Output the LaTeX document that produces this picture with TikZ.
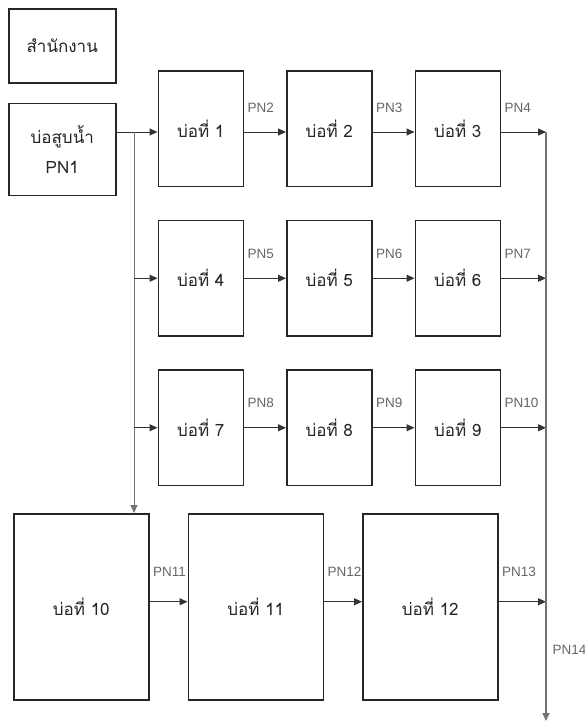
\documentclass[tikz,border=0pt]{standalone}
\usepackage{fontspec}
\setmainfont{Liberation Sans}
\newfontfamily\thaifont[Script=Thai]{Loma}
\usetikzlibrary{arrows.meta,positioning}

\begin{document}
\begin{tikzpicture}[
  x=1pt, y=1pt,
  box/.style={draw=black!85, line width=1.5pt, fill=white, inner sep=0pt, align=center, text=black!85, font=\thaifont\fontsize{17}{19}\selectfont},
  pond/.style={box, minimum width=85pt, minimum height=115.5pt},
  bigpond/.style={box, minimum width=135pt, minimum height=186pt},
  arrow/.style={-{Triangle[length=8pt, width=7pt]}, line width=1pt, draw=black!80},
  feed/.style={arrow, draw=black!55},
  pnlabel/.style={pos=0, anchor=base west, xshift=3pt, yshift=20pt, inner sep=0pt, text=black!60, font=\fontsize{13.5}{15}\selectfont}
]
\useasboundingbox (0,0) rectangle (585,-724);

\node[box, anchor=north west, minimum width=107pt, minimum height=74pt] (office) at (8,-8) {สำนักงาน};
\node[box, below=19pt of office, minimum width=107pt, minimum height=92pt, font=\thaifont\fontsize{17}{30}\selectfont] (pump) {บ่อสูบน้ำ\\PN1};

% แถวที่ 1-3
\node[pond, right=41pt of pump, yshift=20.5pt] (p1) {บ่อที่ 1};
\node[pond, right=42pt of p1] (p2) {บ่อที่ 2};
\node[pond, right=42pt of p2] (p3) {บ่อที่ 3};

\node[pond, below=32.5pt of p1] (p4) {บ่อที่ 4};
\node[pond, right=42pt of p4] (p5) {บ่อที่ 5};
\node[pond, right=42pt of p5] (p6) {บ่อที่ 6};

\node[pond, below=32.5pt of p4] (p7) {บ่อที่ 7};
\node[pond, right=42pt of p7] (p8) {บ่อที่ 8};
\node[pond, right=42pt of p8] (p9) {บ่อที่ 9};

% แถวล่าง
\node[bigpond, anchor=north west] (p10) at (13,-513) {บ่อที่ 10};
\node[bigpond, right=38pt of p10] (p11) {บ่อที่ 11};
\node[bigpond, right=38pt of p11] (p12) {บ่อที่ 12};

\coordinate (split) at (134,-132);
\coordinate (bus) at (546,-132);
\coordinate (busend) at (546,-721);
\coordinate (r4) at ([yshift=5pt]p10.east);

\draw[arrow] (pump.east |- split) -- (p1.west |- split);
\draw[feed] (split) -- (split |- p10.north);
\foreach \x in {p4,p7} \draw[arrow] (split |- \x.west) -- (\x.west);

\draw[arrow] (p1.east |- split) -- node[pnlabel] {PN2} (p2.west |- split);
\draw[arrow] (p2.east |- split) -- node[pnlabel] {PN3} (p3.west |- split);
\draw[arrow] (p3.east |- split) -- node[pnlabel] {PN4} (bus);

\foreach \a/\b/\t in {p4/p5/PN5,p5/p6/PN6,p7/p8/PN8,p8/p9/PN9} \draw[arrow] (\a.east) -- node[pnlabel] {\t} (\b.west);
\foreach \a/\t in {p6/PN7,p9/PN10} \draw[arrow] (\a.east) -- node[pnlabel] {\t} (\a.east -| bus);

\draw[arrow] (p10.east |- r4) -- node[pnlabel, yshift=5pt] {PN11} (p11.west |- r4);
\draw[arrow] (p11.east |- r4) -- node[pnlabel, yshift=5pt] {PN12} (p12.west |- r4);
\draw[arrow] (p12.east |- r4) -- node[pnlabel, yshift=5pt] {PN13} (bus |- r4);

\draw[feed, line width=1.3pt] (bus) -- node[pos=0.88, anchor=west, xshift=6pt, inner sep=0pt, text=black!60, font=\fontsize{13.5}{15}\selectfont] {PN14} (busend);
\end{tikzpicture}
\end{document}
